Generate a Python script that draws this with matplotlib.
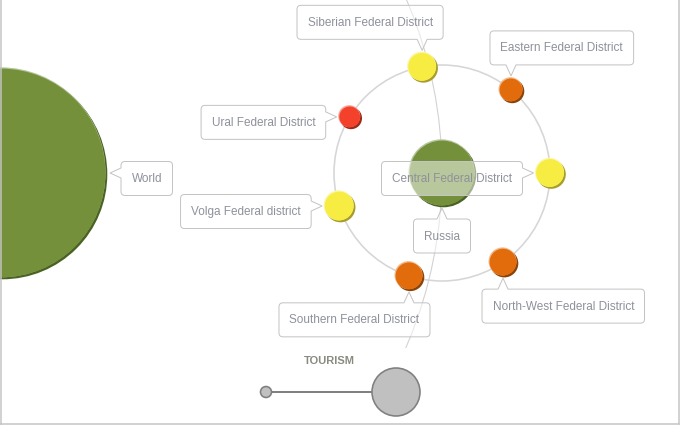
import matplotlib
matplotlib.use("Agg")
import matplotlib.pyplot as plt
from matplotlib.patches import Circle, PathPatch, Rectangle
from matplotlib.path import Path
import numpy as np

plt.rcParams["font.family"] = ["Liberation Sans", "DejaVu Sans"]

# --- data ---
world_label = "World"
world_size = 105
country_label = "Russia"
country_size = 33
districts = [
    "Central Federal District",
    "Eastern Federal District",
    "Siberian Federal District",
    "Ural Federal District",
    "Volga Federal district",
    "Southern Federal District",
    "North-West Federal District",
]
district_sizes = [14.5, 12, 14.5, 11, 15, 14, 14]
district_levels = ["high", "mid", "high", "low", "high", "mid", "mid"]
legend_title = "TOURISM"
legend_sizes = [5.5, 24]

# --- layout (pixels, y down) ---
district_angles = [0, 50.3, 100.6, 148.7, 197.8, 252.2, 304.4]
label_sides = ["left", "above-right", "above-left", "left", "left",
               "below-left", "below-right"]
world_xy = (1, 173)
country_orbit = 441
district_orbit = 108

PX = 0.72  # points per pixel at dpi 100
TEXT_COLOR = "#8e919b"
BOX_EDGE = "#c4c4c4"
level_colors = {
    "high": ("#f7ec42", "#a89d2c", "#fcf6a8"),
    "mid": ("#e26b0c", "#8a4309", "#f2b888"),
    "low": ("#f4412b", "#9a2a1a", "#f9a394"),
}
green = ("#74903a", "#4a6223", "#b5c69c")


def ball(ax, x, y, r, colors, z=5):
    main, dark, light = colors
    ax.add_patch(Circle((x + 1.3, y + 1.3), r, color=dark, zorder=z, lw=0))
    ax.add_patch(Circle((x - 0.5, y - 0.7), r, color=light, zorder=z, lw=0))
    ax.add_patch(Circle((x, y), r - 0.6, color=main, zorder=z, lw=0))


def callout_path(x0, y0, x1, y1, side, c, tip, r=4, hw=5):
    tx, ty = tip
    v, k = [(x0 + r, y0)], [Path.MOVETO]

    def line(*pts):
        for p in pts:
            v.append(p)
            k.append(Path.LINETO)

    def corner(ctrl, end):
        v.extend([ctrl, end])
        k.extend([Path.CURVE3, Path.CURVE3])

    if side == "top":
        line((c - hw, y0), (tx, ty), (c + hw, y0))
    line((x1 - r, y0))
    corner((x1, y0), (x1, y0 + r))
    if side == "right":
        line((x1, c - hw), (tx, ty), (x1, c + hw))
    line((x1, y1 - r))
    corner((x1, y1), (x1 - r, y1))
    if side == "bottom":
        line((c + hw, y1), (tx, ty), (c - hw, y1))
    line((x0 + r, y1))
    corner((x0, y1), (x0, y1 - r))
    if side == "left":
        line((x0, c + hw), (tx, ty), (x0, c - hw))
    line((x0, y0 + r))
    corner((x0, y0), (x0 + r, y0))
    v.append((x0 + r, y0))
    k.append(Path.CLOSEPOLY)
    return Path(v, k)


def callout(ax, renderer, text, x, y, r, where):
    t = ax.text(0, 0, text, fontsize=8.5, color=TEXT_COLOR,
                ha="center", va="center", zorder=21)
    w = t.get_window_extent(renderer).width + 21
    h = 34
    pointer = 11
    if where.startswith("above"):
        tip = (x, y - r - 2)
        y1 = tip[1] - pointer
        y0 = y1 - h
        side, c = "bottom", tip[0]
    elif where.startswith("below"):
        tip = (x, y + r + 2)
        y0 = tip[1] + pointer
        y1 = y0 + h
        side, c = "top", tip[0]
    elif where == "left":
        tip = (x - r - 2, y)
        x1 = tip[0] - pointer
        x0 = x1 - w
        y0 = y - 11.5
        y1 = y0 + h
        side, c = "right", y
    else:
        tip = (x + r + 4, y)
        x0 = tip[0] + pointer
        x1 = x0 + w
        y0 = y - 11.5
        y1 = y0 + h
        side, c = "left", y
    if where.endswith("-left"):
        x1 = tip[0] + 21
        x0 = x1 - w
    elif where.endswith("-right"):
        x0 = tip[0] - 21
        x1 = x0 + w
    elif where in ("above", "below"):
        x0 = tip[0] - w / 2
        x1 = x0 + w
    ax.add_patch(PathPatch(callout_path(x0, y0, x1, y1, side, c, tip),
                           facecolor=(1, 1, 1, 0.5), edgecolor=BOX_EDGE,
                           lw=1 * PX, zorder=20))
    t.set_position(((x0 + x1) / 2, (y0 + y1) / 2 + 0.5))


fig = plt.figure(figsize=(6.8, 4.25), dpi=100)
ax = fig.add_axes([0, 0, 1, 1])
ax.set_xlim(0, 680)
ax.set_ylim(425, 0)
ax.axis("off")
renderer = fig.canvas.get_renderer()

wx, wy = world_xy
cx, cy = wx + country_orbit, wy

# orbit of the country around the world, clipped to the plot area
arc = Circle((wx, wy), country_orbit, fill=False, edgecolor="#d2d2d2",
             lw=1.1 * PX, zorder=2)
ax.add_patch(arc)
arc.set_clip_path(Rectangle((0, 0), 680, 348, transform=ax.transData))

# orbit of the districts around the country
ax.add_patch(Circle((cx, cy), district_orbit, fill=False, edgecolor="#d6d6d6",
                    lw=1.6 * PX, zorder=3))

ball(ax, wx, wy, world_size, green, z=4)
ball(ax, cx, cy, country_size, green, z=6)
callout(ax, renderer, world_label, wx, wy, world_size, "right")
callout(ax, renderer, country_label, cx, cy, country_size, "below")

for name, size, level, ang, where in zip(districts, district_sizes,
                                         district_levels, district_angles,
                                         label_sides):
    a = np.radians(ang)
    x = cx + district_orbit * np.cos(a)
    y = cy - district_orbit * np.sin(a)
    ball(ax, x, y, size, level_colors[level], z=7)
    callout(ax, renderer, name, x, y, size, where)

# size legend
ax.text(329, 361, legend_title, fontsize=8, fontweight="bold",
        color="#8a8a82", ha="center", va="center")
lx0, lx1, ly = 266, 396, 392
ax.plot([lx0 + legend_sizes[0], lx1 - legend_sizes[1]], [ly, ly],
        color="#808080", lw=2 * PX, zorder=8)
for lx, s in zip([lx0, lx1], legend_sizes):
    ax.add_patch(Circle((lx, ly), s, facecolor="#c0c0c0", edgecolor="#7f7f7f",
                        lw=1.6 * PX, zorder=9))

# frame lines
ax.plot([0.5, 0.5], [0, 423.5], color="#c4c4c4", lw=1.5 * PX, zorder=30)
ax.plot([678.5, 678.5], [0, 423.5], color="#c4c4c4", lw=1.5 * PX, zorder=30)
ax.plot([0, 679], [423.5, 423.5], color="#c4c4c4", lw=1.5 * PX, zorder=30)

fig.savefig("out.png", dpi=100)
